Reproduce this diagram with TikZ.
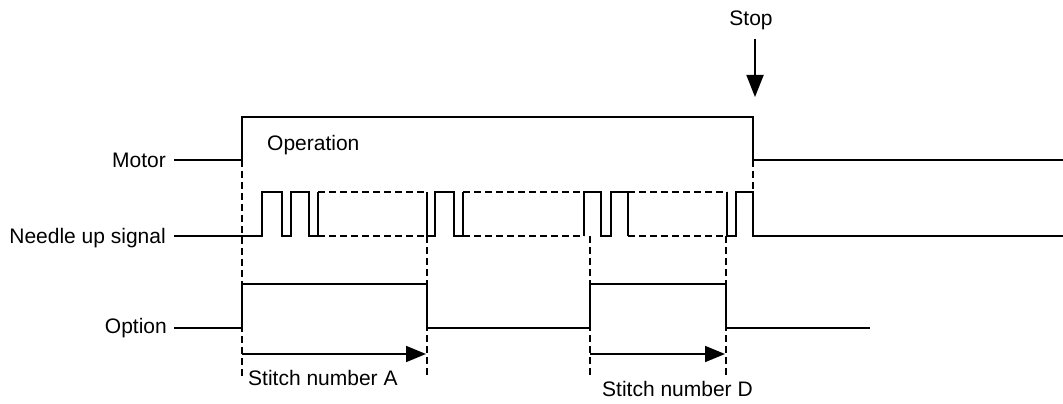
\documentclass[tikz,border=0pt]{standalone}
\usepackage{fontspec}
\setmainfont{Liberation Sans}
\usetikzlibrary{arrows.meta}
\begin{document}
\begin{tikzpicture}[x=1pt,y=-1pt,
  sig/.style={line width=2.6pt, line join=miter},
  guide/.style={line width=1.3pt, dash pattern=on 7pt off 4pt},
  lbl/.style={font=\fontsize{21}{25}\selectfont, inner sep=0pt},
  meas/.style={line width=1.8pt, -{Triangle[length=20pt,width=16pt]}},
  stoparrow/.style={line width=1.8pt, -{Triangle[length=22pt,width=17pt]}}]
\useasboundingbox (0,0) rectangle (1063,404);
% labels
\node[lbl, anchor=base east] (motorlbl) at (166,167) {Motor};
\node[lbl, anchor=base east] (needlelbl) at (166,243) {Needle up signal};
\node[lbl, anchor=base east] (optionlbl) at (167,333) {Option};
\node[lbl, anchor=base west] (oplbl) at (267,150) {Operation};
\node[lbl, anchor=base] (stoplbl) at (751,26) {Stop};
\node[lbl, anchor=base west] (stA) at (248,385) {Stitch number A};
\node[lbl, anchor=base west] (stD) at (602,396) {Stitch number D};
% coordinates
\coordinate (stopS) at (755,39);
\coordinate (stopE) at (755,97);
\coordinate (aS) at (242,354);
\coordinate (aE) at (426,354);
\coordinate (dS) at (590,354);
\coordinate (dE) at (725,354);
% guides
\draw[guide] (242,160) -- (242,378);
\draw[guide] (427,236) -- (427,378);
\draw[guide] (590,236) -- (590,378);
\draw[guide] (726,236) -- (726,378);
\draw[guide] (753,160) -- (753,192);
% needle dashed sections
\draw[guide] (318,192) -- (427,192) (318,236) -- (427,236);
\draw[guide] (463,192) -- (584,192) (463,236) -- (584,236);
\draw[guide] (628,192) -- (727,192) (628,236) -- (727,236);
% motor
\draw[sig] (174,160) -- (242,160) -- (242,117) -- (753,117) -- (753,160) -- (1064,160);
% needle
\draw[sig] (174,236) -- (262,236) -- (262,192) -- (282,192) -- (282,236) -- (291,236) -- (291,192) -- (309,192) -- (309,236) -- (318,236) -- (318,192);
\draw[sig] (427,192) -- (427,236) -- (435,236) -- (435,192) -- (454,192) -- (454,236) -- (463,236) -- (463,192);
\draw[sig] (584,236) -- (584,192) -- (601,192) -- (601,236) -- (611,236) -- (611,192) -- (628,192) -- (628,236);
\draw[sig] (727,192) -- (727,236) -- (736,236) -- (736,192) -- (753,192) -- (753,236) -- (1064,236);
% option
\draw[sig] (174,328) -- (242,328) -- (242,284) -- (427,284) -- (427,328) -- (590,328) -- (590,284) -- (726,284) -- (726,328) -- (870,328);
% arrows
\draw[meas] (aS) -- (aE);
\draw[meas] (dS) -- (dE);
\draw[stoparrow] (stopS) -- (stopE);
\end{tikzpicture}
\end{document}
